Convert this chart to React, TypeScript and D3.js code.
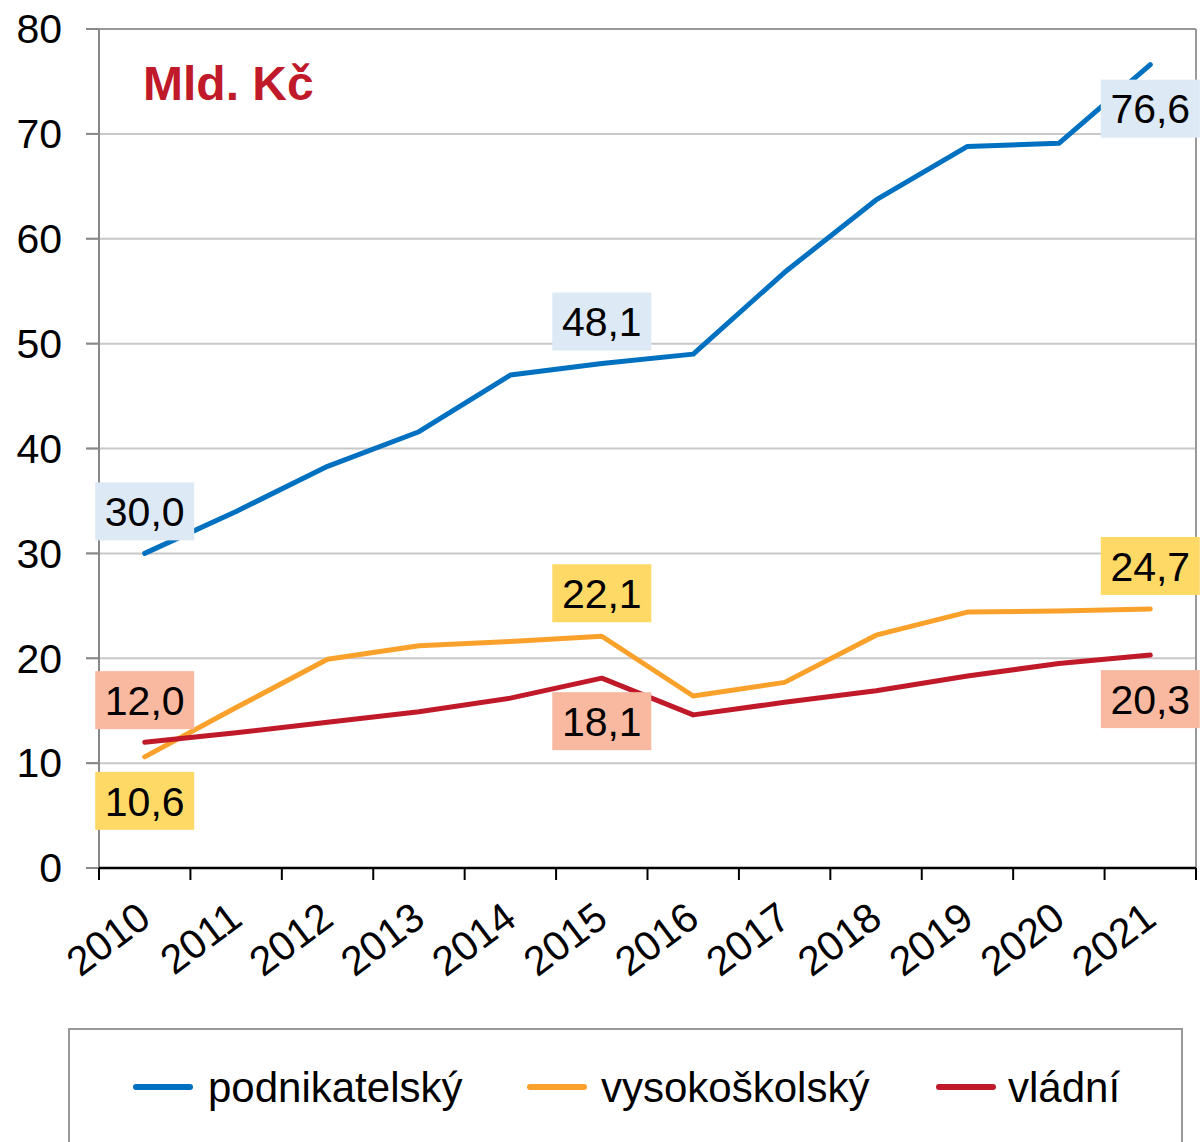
import React from "react";
import * as d3 from "d3";

const years = ["2010","2011","2012","2013","2014","2015","2016","2017","2018","2019","2020","2021"];
const podnikatelsky = [30.0, 34.0, 38.3, 41.6, 47.0, 48.1, 49.0, 56.8, 63.7, 68.8, 69.1, 76.6];
const vysokoskolsky = [10.6, 15.3, 19.9, 21.2, 21.6, 22.1, 16.4, 17.7, 22.2, 24.4, 24.5, 24.7];
const vladni = [12.0, 12.9, 13.9, 14.9, 16.2, 18.1, 14.6, 15.8, 16.9, 18.3, 19.5, 20.3];
const yTicks = [0, 10, 20, 30, 40, 50, 60, 70, 80];

const seriesNames = ["podnikatelský", "vysokoškolský", "vládní"];
const seriesColors = ["#0070C0", "#F9A12B", "#C0192A"];
const labelFills = ["#DDE9F5", "#FFD966", "#F9B9A0"];

// labels: [seriesIndex, yearIndex, dx, dyCenterOffset]
const labelDefs: [number, number, number, number][] = [
  [0, 0, 0, -42],
  [0, 5, 0, -42],
  [0, 11, 0, 44],
  [1, 0, 0, 44],
  [1, 5, 0, -43],
  [1, 11, 0, -43],
  [2, 0, 0, -42],
  [2, 5, 0, 43],
  [2, 11, 0, 44],
];

export default function App() {
  const W = 1201, H = 1142;
  const left = 99, right = 1196, top = 29, bottom = 868;
  const x = d3.scaleBand<string>().domain(years).range([left, right]);
  const y = d3.scaleLinear().domain([0, 80]).range([bottom, top]);
  const cx = (i: number) => (x(years[i]) as number) + x.bandwidth() / 2;
  const allSeries = [podnikatelsky, vysokoskolsky, vladni];
  const line = d3.line<number>().x((_, i) => cx(i)).y((v) => y(v));
  const font = "'Liberation Sans', Arial, sans-serif";

  return (
    <svg width={W} height={H} style={{ position: "absolute", left: 0, top: 0, background: "#fff" }} fontFamily={font}>
      {/* gridlines */}
      {yTicks.map((t) => (
        <line key={"g" + t} x1={86} x2={right} y1={y(t)} y2={y(t)}
          stroke={t === 80 ? "#999" : t === 0 ? "none" : "#C8C8C8"} strokeWidth={2} />
      ))}
      {yTicks.map((t) => (
        <line key={"tk" + t} x1={86} x2={left} y1={y(t)} y2={y(t)} stroke="#888" strokeWidth={2} />
      ))}
      {/* right border */}
      <line x1={right} x2={right} y1={top} y2={bottom + 12} stroke="#999" strokeWidth={2} />
      {/* y axis */}
      <line x1={left} x2={left} y1={top} y2={bottom + 12} stroke="#888" strokeWidth={2} />
      {/* x axis */}
      <line x1={left} x2={right} y1={bottom} y2={bottom} stroke="#000" strokeWidth={2.5} />
      {years.map((yr) => (
        <line key={"xt" + yr} x1={x(yr) as number} x2={x(yr) as number} y1={bottom} y2={bottom + 12} stroke="#000" strokeWidth={2} />
      ))}
      <line x1={right} x2={right} y1={bottom} y2={bottom + 12} stroke="#000" strokeWidth={2} />
      {/* y labels */}
      {yTicks.map((t) => (
        <text key={"yl" + t} x={62} y={y(t)} dy="0.35em" textAnchor="end" fontSize={41} fill="#000">{t}</text>
      ))}
      {/* x labels */}
      {years.map((yr, i) => (
        <text key={"xl" + yr} transform={`translate(${cx(i) - 9},${bottom + 32}) rotate(-37)`}
          textAnchor="end" dy="0.7em" fontSize={41} fill="#000">{yr}</text>
      ))}
      {/* title */}
      <text x={143} y={100} fontSize={48} fontWeight="bold" fill="#C0192A">Mld. Kč</text>
      {/* lines */}
      {allSeries.map((s, k) => (
        <path key={"s" + k} d={line(s) || ""} fill="none" stroke={seriesColors[k]} strokeWidth={5} strokeLinecap="round" strokeLinejoin="round" />
      ))}
      {/* data labels */}
      {labelDefs.map(([k, i, dx, dy], n) => {
        const v = allSeries[k][i];
        const px = Math.min(cx(i) + dx, 1151);
        const py = y(v) + dy;
        const bw = 99, bh = 58;
        return (
          <g key={"lb" + n}>
            <rect x={px - bw / 2} y={py - bh / 2} width={bw} height={bh} fill={labelFills[k]} />
            <text x={px} y={py} dy="0.36em" textAnchor="middle" fontSize={41} fill="#000">
              {v.toFixed(1).replace(".", ",")}
            </text>
          </g>
        );
      })}
      {/* legend */}
      <rect x={69} y={1029} width={1113} height={140} fill="#fff" stroke="#999" strokeWidth={2} />
      {seriesNames.map((nm, k) => {
        const lx = [136, 530, 939][k];
        return (
          <g key={"lg" + k}>
            <line x1={lx} x2={lx + 54} y1={1087} y2={1087} stroke={seriesColors[k]} strokeWidth={6} strokeLinecap="round" />
            <text x={[208, 601, 1008][k]} y={1087} dy="0.35em" fontSize={42} fill="#000">{nm}</text>
          </g>
        );
      })}
    </svg>
  );
}
